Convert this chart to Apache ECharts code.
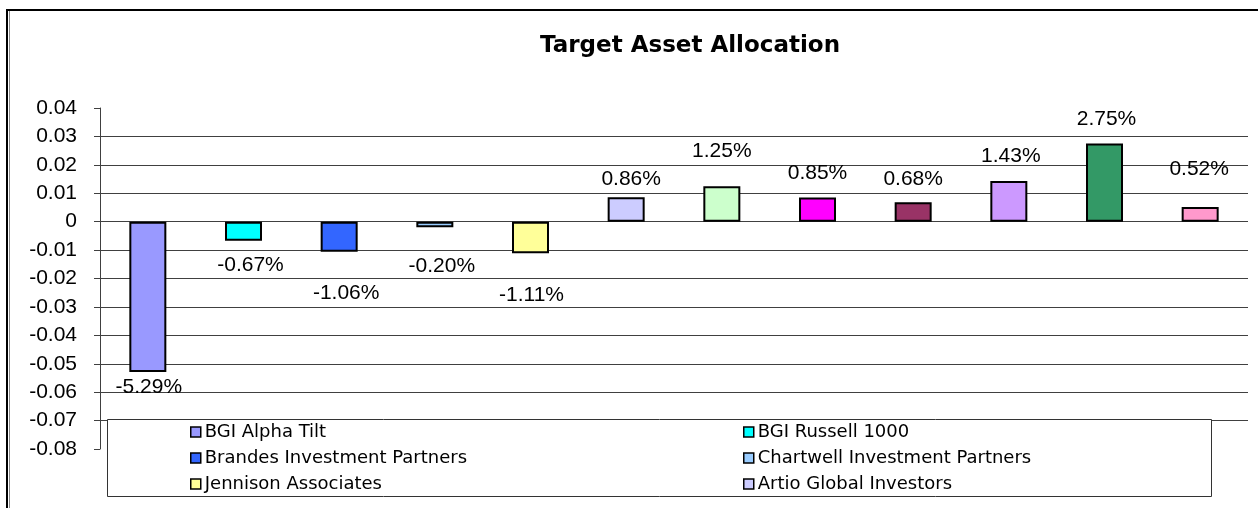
<!DOCTYPE html>
<html>
<head>
<meta charset="utf-8">
<title>Target Asset Allocation</title>
<script src="https://cdn.jsdelivr.net/npm/echarts@6/dist/echarts.min.js"></script>
<style>
  html, body { margin: 0; padding: 0; background: #fff; }
  #chart { width: 1258px; height: 508px; }
</style>
</head>
<body>
<div id="chart"></div>
<script>
// 数据
const managers = [
  'BGI Alpha Tilt',
  'BGI Russell 1000',
  'Brandes Investment Partners',
  'Chartwell Investment Partners',
  'Jennison Associates',
  'Artio Global Investors',
  'Manager 7',
  'Manager 8',
  'Manager 9',
  'Manager 10',
  'Manager 11',
  'Manager 12'
]
const allocation = [-0.0529, -0.0067, -0.0106, -0.002, -0.0111, 0.0086, 0.0125, 0.0085, 0.0068, 0.0143, 0.0275, 0.0052]
const yTicks = { min: -0.08, max: 0.04, step: 0.01 }

// 样式
const barColors = ['#9999FF', '#00FFFF', '#3366FF', '#99CCFF', '#FFFF99', '#CCCCFF',
  '#CCFFCC', '#FF00FF', '#993366', '#CC99FF', '#339966', '#FF99CC']
// 标签离柱子端点的距离（参考图里标签是手动拖过的）
const labelDist = [5, 14, 31, 28, 31, 8, 24, 14, 13, 14, 14, 27]
const labelDx = [1, 7, 7, 7, 1, 5, 0, 0, 0, 2, 2, -1]

const chart = echarts.init(document.getElementById('chart'))

const series = managers.map((name, i) => ({
  name: name,
  type: 'bar',
  stack: 'all',
  barWidth: 37,
  data: allocation.map((v, j) => (j === i ? v : '-')),
  itemStyle: { color: barColors[i], borderColor: '#000', borderWidth: 2 },
  label: {
    show: true,
    position: allocation[i] < 0 ? 'bottom' : 'top',
    distance: labelDist[i],
    offset: [labelDx[i], 0],
    color: '#000',
    fontFamily: 'Liberation Sans, Arial, sans-serif',
    fontSize: 21,
    formatter: (p) => (p.value * 100).toFixed(2) + '%'
  },
  emphasis: { disabled: true }
}))

const legendBase = {
  orient: 'vertical',
  top: 422,
  padding: 0,
  itemWidth: 10,
  itemHeight: 10,
  itemGap: 6,
  icon: 'rect',
  selectedMode: false,
  z: 12,
  itemStyle: { borderColor: '#000', borderWidth: 1.5 },
  textStyle: {
    color: '#000',
    fontFamily: 'DejaVu Sans, sans-serif',
    fontSize: 18,
    lineHeight: 20,
    padding: [0, 0, 0, -1]
  }
}

const option = {
  animation: false,
  backgroundColor: '#fff',
  title: {
    text: 'Target Asset Allocation',
    left: 540,
    top: 35,
    padding: 0,
    textStyle: {
      color: '#000',
      fontFamily: 'DejaVu Sans, sans-serif',
      fontWeight: 'bold',
      fontSize: 23
    }
  },
  grid: {
    left: 100,
    right: 10,
    top: 108,
    bottom: 59,
    containLabel: false,
    outerBoundsMode: 'none'
  },
  legend: [
    Object.assign({}, legendBase, { left: 190, data: [managers[0], managers[2], managers[4]] }),
    Object.assign({}, legendBase, { left: 743, data: [managers[1], managers[3], managers[5]] })
  ],
  xAxis: {
    type: 'category',
    data: managers,
    axisLine: { show: false },
    axisTick: { show: false },
    axisLabel: { show: false },
    splitLine: { show: false }
  },
  yAxis: {
    type: 'value',
    min: yTicks.min,
    max: yTicks.max,
    interval: yTicks.step,
    axisLine: { show: true, lineStyle: { color: '#404040', width: 1 } },
    axisTick: { show: true, length: 6, lineStyle: { color: '#404040' } },
    axisLabel: {
      margin: 23,
      color: '#000',
      fontFamily: 'Liberation Sans, Arial, sans-serif',
      fontSize: 21,
      formatter: (v) => (Math.abs(v) < 1e-9 ? '0' : v.toFixed(2))
    },
    splitLine: {
      show: true,
      showMinLine: false,
      showMaxLine: false,
      lineStyle: { color: '#404040', width: 1 }
    }
  },
  graphic: [
    // 外框
    { type: 'line', z: 20, shape: { x1: 6, y1: 10, x2: 1258, y2: 10 }, style: { stroke: '#000', lineWidth: 2 } },
    { type: 'line', z: 20, shape: { x1: 7, y1: 9, x2: 7, y2: 508 }, style: { stroke: '#000', lineWidth: 2 } },
    { type: 'line', z: 20, shape: { x1: 9.5, y1: 11, x2: 9.5, y2: 508 }, style: { stroke: '#888', lineWidth: 1 } },
    // 图例框
    {
      type: 'rect',
      z: 10,
      shape: { x: 107.5, y: 419.5, width: 1104, height: 77 },
      style: { fill: '#fff', stroke: '#333', lineWidth: 1 }
    }
  ],
  series: series
}

chart.setOption(option)
</script>
</body>
</html>
